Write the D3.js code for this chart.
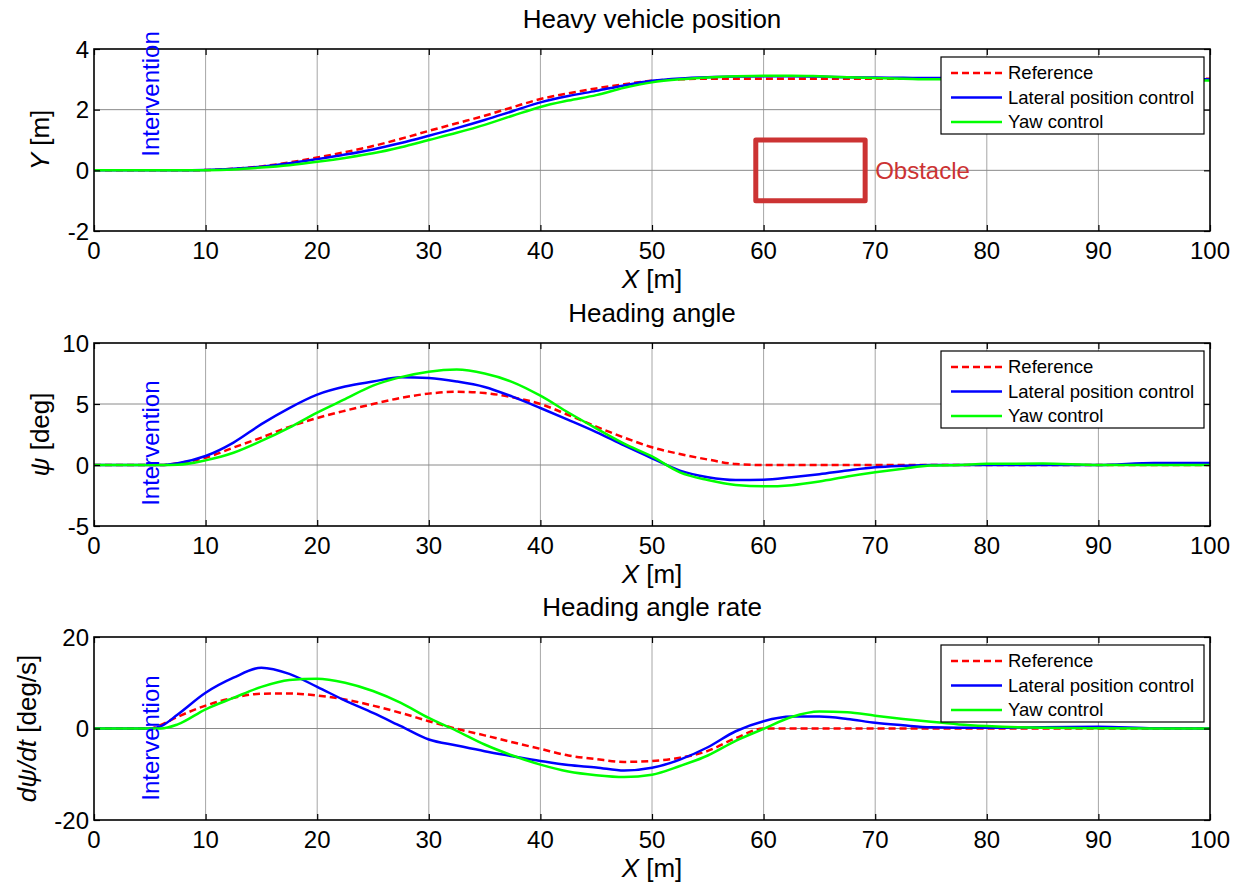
<!DOCTYPE html>
<html><head><meta charset="utf-8">
<script src="https://cdn.jsdelivr.net/npm/d3@7"></script>
<style>
body{margin:0;background:#fff}
text{font-family:"Liberation Sans",Arial,Helvetica,sans-serif;fill:#000}
</style>
</head><body>
<svg id="chart" width="1239" height="884"></svg>
<script>
// ---------- data ----------
const xGrid = [0,5,6,7.5,10,12.5,15,17.5,20,22.5,25,27.5,30,32.5,35,37.5,40,42.5,45,47.5,50,52.5,55,57.5,60,62.5,65,67.5,70,72.5,75,77.5,80,85,90,95,100];
const xTicks = [0,10,20,30,40,50,60,70,80,90,100];

const seriesNames = ["Reference","Lateral position control","Yaw control"];

// Panel 1: lateral position Y [m]
const posRef = [0,0,0,0,0.01,0.05,0.13,0.26,0.42,0.6,0.8,1.04,1.3,1.55,1.8,2.08,2.35,2.54,2.7,2.84,2.95,3.0,3.02,3.02,3.02,3.02,3.02,3.02,3.02,3.02,3.02,3.02,3.02,3.02,3.02,3.02,3.02];
const posLat = [0,0,0,0,0.01,0.05,0.12,0.23,0.37,0.52,0.69,0.9,1.14,1.39,1.66,1.95,2.24,2.45,2.62,2.8,2.95,3.03,3.07,3.09,3.1,3.1,3.09,3.07,3.06,3.05,3.04,3.04,3.03,3.03,3.02,3.0,3.0];
const posYaw = [0,0,0,0,0.005,0.03,0.09,0.17,0.28,0.41,0.56,0.76,1.0,1.24,1.5,1.8,2.09,2.3,2.48,2.72,2.9,3.0,3.06,3.1,3.12,3.12,3.1,3.07,3.04,3.02,3.0,3.0,3.0,2.99,2.98,2.97,2.96];
const posTicks = [-2,0,2,4];

// Panel 2: heading angle psi [deg]
const psiRef = [0,0,0,0.15,0.6,1.43,2.25,3.13,3.85,4.45,5.0,5.5,5.85,6.0,5.9,5.55,5.0,4.1,3.15,2.25,1.45,0.9,0.45,0.08,0,0,0,0,0,0,0,0,0,0,0,0,0];
const psiLat = [0,0,0,0.15,0.74,1.84,3.35,4.67,5.77,6.43,6.84,7.2,7.13,6.85,6.4,5.6,4.67,3.7,2.7,1.6,0.55,-0.46,-1.0,-1.23,-1.2,-1.0,-0.75,-0.45,-0.19,-0.07,0,0,0,0,0,0.16,0.16];
const psiYaw = [0,0,0,0.02,0.38,1.0,1.97,3.07,4.3,5.4,6.5,7.2,7.65,7.82,7.5,6.8,5.68,4.3,3.0,1.75,0.7,-0.6,-1.23,-1.64,-1.75,-1.65,-1.35,-0.95,-0.6,-0.3,-0.05,0,0.1,0.12,0,0,0];
const psiTicks = [-5,0,5,10];

// Panel 3: heading angle rate [deg/s]
const rateRef = [0,0,0.8,2.55,5.0,6.7,7.6,7.65,7.2,6.35,5.0,3.4,1.6,-0.07,-1.5,-3.0,-4.45,-5.9,-6.7,-7.3,-7.1,-6.4,-4.9,-2.1,0,0,0,0,0,0,0,0,0,0,0,0,0];
const rateLat = [0,0,0.5,3.06,7.8,11.1,13.3,11.95,9.1,6.1,3.4,0.5,-2.4,-3.7,-4.96,-6.05,-7.1,-8.0,-8.5,-9.2,-8.6,-6.8,-4.1,-0.6,1.6,2.6,2.6,2.1,1.24,0.7,0.25,0.15,0.15,0.3,0.36,0.05,0];
const rateYaw = [0,0,0,0.9,4.2,6.7,9.1,10.6,10.9,10.0,8.2,5.6,2.3,-0.5,-3.5,-5.9,-7.9,-9.4,-10.2,-10.6,-10.1,-8.2,-5.9,-2.7,-0.07,2.5,3.7,3.55,2.8,2.1,1.45,0.9,0.55,0.15,0.05,0,0];
const rateTicks = [-20,0,20];

// annotations (data coordinates)
const obstacleX = [59.3, 69.1];
const obstacleY = [-1, 1];

// ---------- layout / style ----------
const colors = ["#ff0000","#0000ff","#00ff00"];
const dashes = ["7,4", null, null];
const L = 94, R = 1210;
const FS = 24;     // tick labels / annotations
const FL = 26;     // titles and axis labels

const panels = [
  {title:"Heavy vehicle position", series:[posRef,posLat,posYaw], yDomain:[-2,4], yTicks:posTicks,
   top:49, bottom:231, ylab:[["Y",true],[" [m]",false]], ylabX:49, intY:0.45, obstacle:true},
  {title:"Heading angle", series:[psiRef,psiLat,psiYaw], yDomain:[-5,10], yTicks:psiTicks,
   top:343, bottom:526, ylab:[["\u03C8",true],[" [deg]",false]], ylabX:49, intY:-3.35},
  {title:"Heading angle rate", series:[rateRef,rateLat,rateYaw], yDomain:[-20,20], yTicks:rateTicks,
   top:637, bottom:820, ylab:[["d\u03C8/dt",true],[" [deg/s]",false]], ylabX:36, intY:-15.8}
];

const svg = d3.select("#chart");
const x = d3.scaleLinear().domain([0,100]).range([L,R]);

panels.forEach(p => {
  const y = d3.scaleLinear().domain(p.yDomain).range([p.bottom,p.top]);
  const g = svg.append("g");

  // grid
  g.append("g").selectAll("line").data(xTicks.slice(1,-1)).join("line")
    .attr("x1",d=>x(d)).attr("x2",d=>x(d)).attr("y1",p.top).attr("y2",p.bottom)
    .attr("stroke","#a6a6a6").attr("stroke-width",1);
  g.append("g").selectAll("line").data(p.yTicks.slice(1,-1)).join("line")
    .attr("x1",L).attr("x2",R).attr("y1",d=>y(d)).attr("y2",d=>y(d))
    .attr("stroke","#8a8a8a").attr("stroke-width",1);

  // obstacle
  if (p.obstacle) {
    g.append("rect")
      .attr("x",x(obstacleX[0])).attr("y",y(obstacleY[1]))
      .attr("width",x(obstacleX[1])-x(obstacleX[0])).attr("height",y(obstacleY[0])-y(obstacleY[1]))
      .attr("fill","none").attr("stroke","#cc3333").attr("stroke-width",5).attr("stroke-linejoin","round");
    g.append("text").attr("x",x(obstacleX[1])+10).attr("y",y(0)).attr("dy","0.35em")
      .style("font-size",FS+"px").style("fill","#cc3333").text("Obstacle");
  }

  // lines
  const line = d3.line().x((d,i)=>x(xGrid[i])).y(d=>y(d)).curve(d3.curveMonotoneX);
  p.series.forEach((s,k) => {
    g.append("path").datum(s).attr("d",line)
      .attr("fill","none").attr("stroke",colors[k]).attr("stroke-width",2.5)
      .attr("stroke-dasharray",dashes[k]);
  });

  // axes box
  g.append("rect").attr("x",L).attr("y",p.top).attr("width",R-L).attr("height",p.bottom-p.top)
    .attr("fill","none").attr("stroke","#000").attr("stroke-width",1.6);

  // ticks (inward, all four sides) via d3 axes
  const tk = 6;
  const axB = g.append("g").attr("transform",`translate(0,${p.bottom})`)
    .call(d3.axisTop(x).tickValues(xTicks).tickSize(tk).tickFormat(""));
  const axT = g.append("g").attr("transform",`translate(0,${p.top})`)
    .call(d3.axisBottom(x).tickValues(xTicks).tickSize(tk).tickFormat(""));
  const axL = g.append("g").attr("transform",`translate(${L},0)`)
    .call(d3.axisRight(y).tickValues(p.yTicks).tickSize(tk).tickFormat(""));
  const axR = g.append("g").attr("transform",`translate(${R},0)`)
    .call(d3.axisLeft(y).tickValues(p.yTicks).tickSize(tk).tickFormat(""));
  [axB,axT,axL,axR].forEach(a=>{a.select(".domain").remove(); a.selectAll("line").attr("stroke","#000").attr("stroke-width",1.2);});

  // tick labels
  g.append("g").selectAll("text").data(xTicks).join("text")
    .attr("x",d=>x(d)).attr("y",p.bottom+28).attr("text-anchor","middle")
    .style("font-size",FS+"px").text(d=>d);
  g.append("g").selectAll("text").data(p.yTicks).join("text")
    .attr("x",L-5).attr("y",d=>y(d)+8.5).attr("text-anchor","end")
    .style("font-size",FS+"px").text(d=>d);

  // title
  g.append("text").attr("x",(L+R)/2).attr("y",p.top-21).attr("text-anchor","middle")
    .style("font-size",FL+"px").text(p.title);

  // x label
  const xl = g.append("text").attr("x",(L+R)/2).attr("y",p.bottom+57).attr("text-anchor","middle").style("font-size",FL+"px");
  xl.append("tspan").style("font-style","italic").text("X");
  xl.append("tspan").text(" [m]");

  // y label
  const yl = g.append("text").attr("transform",`translate(${p.ylabX},${(p.top+p.bottom)/2}) rotate(-90)`)
    .attr("text-anchor","middle").style("font-size",FL+"px");
  p.ylab.forEach(([t,it])=> yl.append("tspan").style("font-style",it?"italic":"normal").text(t));

  // Intervention
  g.append("text").attr("transform",`translate(${x(5.8)},${y(p.intY)}) rotate(-90)`)
    .style("font-size",FS+"px").style("fill","#0000ff").text("Intervention");

  // legend
  const lx = 941, ly = p.top+8, lw = 263, lh = 77;
  const lg = g.append("g");
  lg.append("rect").attr("x",lx).attr("y",ly).attr("width",lw).attr("height",lh)
    .attr("fill","#fff").attr("stroke","#000").attr("stroke-width",1.2);
  seriesNames.forEach((n,k)=>{
    const cy = ly+16+k*24.5;
    lg.append("line").attr("x1",lx+10).attr("x2",lx+61).attr("y1",cy).attr("y2",cy)
      .attr("stroke",colors[k]).attr("stroke-width",2.5).attr("stroke-dasharray",dashes[k]);
    lg.append("text").attr("x",lx+67).attr("y",cy).attr("dy","0.35em")
      .style("font-size","18.5px").text(n);
  });
});
</script>
</body></html>
